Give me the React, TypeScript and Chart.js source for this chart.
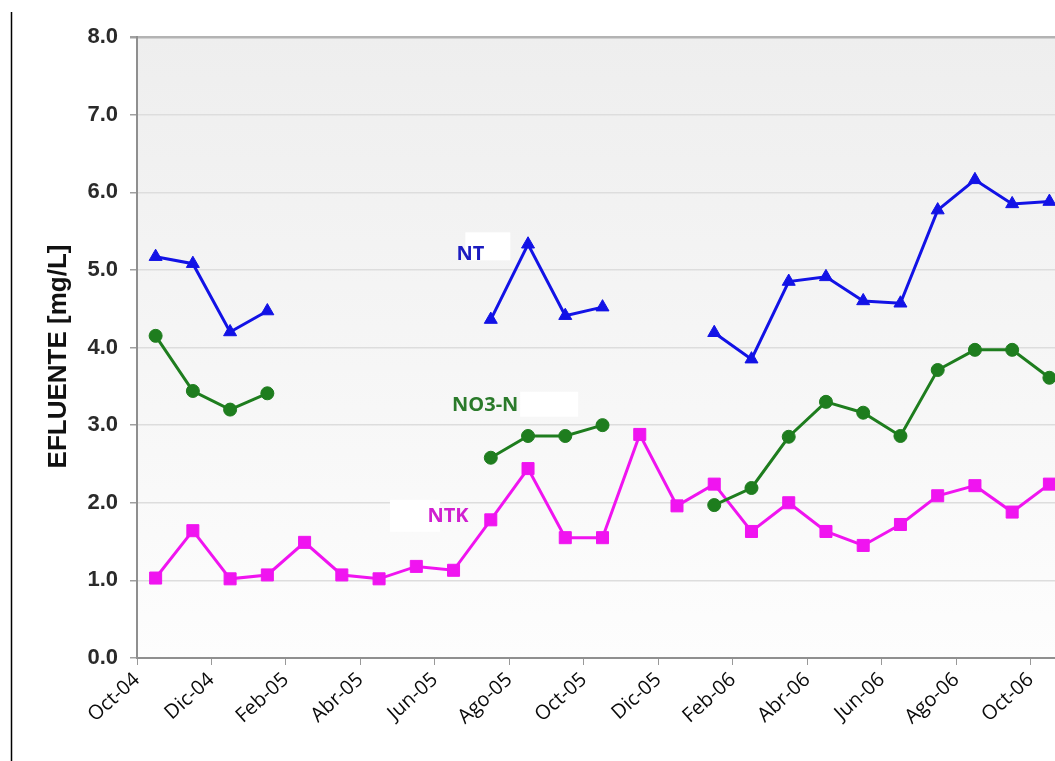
import React, { useEffect, useRef } from 'react';
import { Chart, registerables } from 'chart.js';

Chart.register(...registerables);

// ---- data ----
const xTickLabels = ['Oct-04', 'Dic-04', 'Feb-05', 'Abr-05', 'Jun-05', 'Ago-05', 'Oct-05', 'Dic-05', 'Feb-06', 'Abr-06', 'Jun-06', 'Ago-06', 'Oct-06'];
const xTickValues = [0, 2, 4, 6, 8, 10, 12, 14, 16, 18, 20, 22, 24];
const yTickValues = [0, 1, 2, 3, 4, 5, 6, 7, 8];

// monthly samples Oct-04 .. Oct-06 (25 months)
const ntValues = [5.17, 5.08, 4.2, 4.47, null, null, null, null, null, 4.36, 5.33, 4.41, 4.52, null, null, 4.19, 3.85, 4.85, 4.91, 4.6, 4.57, 5.77, 6.16, 5.85, 5.88];
const no3Values = [4.15, 3.44, 3.2, 3.41, null, null, null, null, null, 2.58, 2.86, 2.86, 3.0, null, null, 1.97, 2.19, 2.85, 3.3, 3.16, 2.86, 3.71, 3.97, 3.97, 3.61];
const ntkValues = [1.03, 1.64, 1.02, 1.07, 1.49, 1.07, 1.02, 1.18, 1.13, 1.78, 2.44, 1.55, 1.55, 2.88, 1.96, 2.24, 1.63, 2.0, 1.63, 1.45, 1.72, 2.09, 2.22, 1.88, 2.24];

const seriesNames = ['NT', 'NO3-N', 'NTK'];
const yAxisTitle = 'EFLUENTE [mg/L]';

// inline series labels (data coordinates)
const labelX = [8.95, 9.35, 8.35];
const labelY = [5.2, 3.25, 1.82];

// ---- styles ----
const lineColors = ['#1212e6', '#1e7d1e', '#f014f0'];
const labelColors = ['#1c1cc0', '#2a7a2a', '#d020d0'];
const pointStyles = ['triangle', 'circle', 'rect'];
const pointRadii = [7.5, 6.5, 8.5];
// white boxes behind labels: [dx, dy, w, h] relative to label centre (px)
const labelBoxes = [
  [-5, -22, 45, 28],
  [35, -14, 58, 25],
  [-58, -17, 50, 32],
];

const toPoints = (vals: (number | null)[]) => vals.map((v, i) => ({ x: i + 0.5, y: v }));

const decorPlugin = {
  id: 'decor',
  beforeDraw(chart: any) {
    const { ctx, chartArea } = chart;
    ctx.save();
    ctx.fillStyle = '#ffffff';
    ctx.fillRect(0, 0, chart.width, chart.height);
    const g = ctx.createLinearGradient(0, chartArea.top, 0, chartArea.bottom);
    g.addColorStop(0, '#eeeeee');
    g.addColorStop(1, '#fdfdfd');
    ctx.fillStyle = g;
    ctx.fillRect(chartArea.left, chartArea.top, chartArea.right - chartArea.left, chartArea.bottom - chartArea.top);
    ctx.restore();
  },
  beforeDatasetsDraw(chart: any) {
    const { ctx, scales } = chart;
    ctx.save();
    seriesNames.forEach((name, i) => {
      const cx = scales.x.getPixelForValue(labelX[i]);
      const cy = scales.y.getPixelForValue(labelY[i]);
      const b = labelBoxes[i];
      ctx.fillStyle = '#ffffff';
      ctx.fillRect(cx + b[0], cy + b[1], b[2], b[3]);
      ctx.fillStyle = labelColors[i];
      ctx.font = 'bold 20px "Open Sans"';
      ctx.textAlign = 'center';
      ctx.textBaseline = 'middle';
      ctx.fillText(name, cx, cy);
    });
    ctx.restore();
  },
  afterDraw(chart: any) {
    const { ctx, chartArea } = chart;
    ctx.save();
    // left frame line
    ctx.strokeStyle = '#000000';
    ctx.lineWidth = 1.5;
    ctx.beginPath();
    ctx.moveTo(11.5, 12);
    ctx.lineTo(11.5, chart.height);
    ctx.stroke();
    // y axis title
    ctx.translate(59, (chartArea.top + chartArea.bottom) / 2 + 9);
    ctx.rotate(-Math.PI / 2);
    ctx.font = 'bold 26px "Liberation Sans"';
    ctx.fillStyle = '#111111';
    ctx.textAlign = 'center';
    ctx.textBaseline = 'middle';
    ctx.fillText(yAxisTitle, 0, 0);
    ctx.restore();
  },
};

export default function App() {
  const ref = useRef<HTMLCanvasElement | null>(null);
  useEffect(() => {
    if (!ref.current) return;
    const datasets = [ntValues, no3Values, ntkValues].map((vals, i) => ({
      label: seriesNames[i],
      data: toPoints(vals),
      borderColor: lineColors[i],
      backgroundColor: lineColors[i],
      pointBackgroundColor: lineColors[i],
      pointBorderColor: lineColors[i],
      pointStyle: pointStyles[i],
      pointRadius: pointRadii[i],
      pointBorderWidth: 1,
      borderWidth: 3,
      spanGaps: false,
      tension: 0,
      clip: false,
    }));
    const chart = new Chart(ref.current, {
      type: 'line',
      data: { datasets },
      plugins: [decorPlugin],
      options: {
        animation: false,
        responsive: false,
        maintainAspectRatio: false,
        layout: { autoPadding: false, padding: { top: 37, left: 0, right: 0, bottom: 0 } },
        plugins: { legend: { display: false }, tooltip: { enabled: false } },
        scales: {
          x: {
            type: 'linear',
            min: 0,
            max: 24.65,
            afterBuildTicks: (axis: any) => {
              axis.ticks = xTickValues.map((v) => ({ value: v }));
            },
            afterFit: (axis: any) => {
              axis.height = 103;
              axis.paddingRight = 0;
              axis.paddingLeft = 0;
            },
            ticks: {
              autoSkip: false,
              maxRotation: 42,
              minRotation: 42,
              padding: 3,
              color: '#0a0a0a',
              font: { family: '"Open Sans"', size: 20 },
              callback: (_v: any, i: number) => xTickLabels[i],
            },
            grid: {
              display: true,
              drawOnChartArea: false,
              drawTicks: true,
              tickLength: 7,
              color: '#999999',
              tickColor: '#999999',
            },
            border: { display: true, color: '#8f8f8f', width: 2 },
          },
          y: {
            type: 'linear',
            min: 0,
            max: 8,
            afterBuildTicks: (axis: any) => {
              axis.ticks = yTickValues.map((v) => ({ value: v }));
            },
            afterFit: (axis: any) => {
              axis.width = 137;
            },
            ticks: {
              padding: 12,
              color: '#2a2a2a',
              font: { family: '"Liberation Sans"', size: 22, weight: 'bold' },
              callback: (v: any) => Number(v).toFixed(1),
            },
            grid: {
              drawTicks: true,
              tickLength: 7,
              tickColor: '#a0a0a0',
              color: (c: any) => (c.tick && c.tick.value === 8 ? '#b3b3b3' : '#dddddd'),
              lineWidth: (c: any) => (c.tick && c.tick.value === 8 ? 2.5 : 1.5),
            },
            border: { display: true, color: '#8f8f8f', width: 2 },
          },
        },
      },
    } as any);
    return () => chart.destroy();
  }, []);
  return (
    <div style={{ position: 'absolute', left: 0, top: 0, width: 1055, height: 761, background: '#ffffff' }}>
      <canvas ref={ref} width={1055} height={761} style={{ width: 1055, height: 761, display: 'block' }} />
    </div>
  );
}
